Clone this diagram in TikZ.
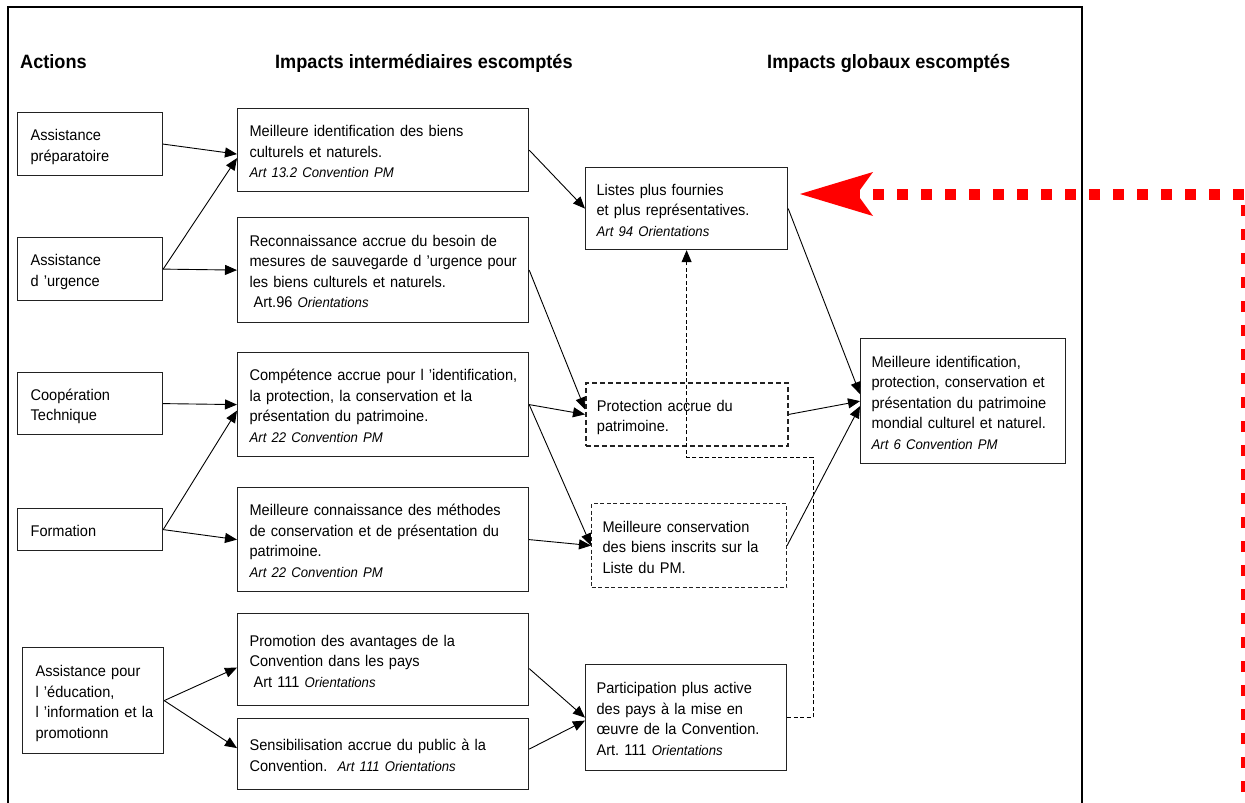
\documentclass[tikz,border=0pt]{standalone}
\usepackage{fontspec}
\setmainfont[FakeStretch=0.94]{Liberation Sans}
\usetikzlibrary{arrows.meta}
\definecolor{boxc}{HTML}{222222}
\frenchspacing
\newcommand\bodyfont{\fontsize{15.5}{20.5}\selectfont}
\newcommand\artfont{\fontsize{14}{20.5}\selectfont\itshape}
\newcommand\hdrfont{\fontsize{19.3}{22}\selectfont\bfseries}
\newcommand\boxlines[1]{\begin{tabular}{@{}l@{}}\rule{0pt}{20.4pt}#1\end{tabular}}
\newcommand\art[1]{{\artfont #1}}
\begin{document}
\begin{tikzpicture}[x=1pt,y=-1pt,
  box/.style={draw=boxc, line width=1.2pt, inner xsep=12pt, inner ysep=0pt,
    anchor=north west, align=left, font=\bodyfont},
  abox/.style={box, inner xsep=13pt, text width=119pt},
  ibox/.style={box, inner xsep=12pt, text width=267pt},
  mbox/.style={box, inner xsep=11pt},
  dthick/.style={mbox, line width=1.8pt, dash pattern=on 5pt off 3pt},
  dthin/.style={mbox, line width=1.1pt, dash pattern=on 4pt off 2.5pt},
  hdr/.style={font=\hdrfont, inner sep=0pt, anchor=base west},
  conn/.style={draw=black, line width=0.9pt, -{Triangle[length=12pt,width=10pt]}},
  dconn/.style={draw=black, line width=0.9pt, dash pattern=on 4pt off 2.5pt, -{Triangle[length=12pt,width=10pt]}},
  redarrow/.style={draw=red, line width=11pt, dash pattern=on 11.5pt off 12.5pt,
    -{Stealth[length=73pt,width=44pt,inset=16pt,line width=0pt]}}
]
\useasboundingbox (0,0) rectangle (1245,803);
% frame
\draw[line width=2pt] (8,830) -- (8,7) -- (1082,7) -- (1082,830);
% headers
\node[hdr] (hA) at (20,68) {Actions};
\node[hdr] (hI) at (275,68) {Impacts intermédiaires escomptés};
\node[hdr] (hG) at (767,68) {Impacts globaux escomptés};
% actions
\node[abox, minimum height=63pt] (A1) at (17,112) {\boxlines{Assistance\\préparatoire}};
\node[abox, minimum height=63pt] (A2) at (17,237) {\boxlines{Assistance\\d ’urgence}};
\node[abox, minimum height=62pt] (A3) at (17,372) {\boxlines{Coopération\\Technique}};
\node[abox, minimum height=42pt] (A4) at (17,508) {\boxlines{Formation}};
\node[abox, text width=115pt, minimum height=106pt] (A5) at (22,647) {\boxlines{Assistance pour\\l ’éducation,\\l ’information et la\\promotionn}};
% intermediate
\node[ibox, minimum height=83pt] (I1) at (237,108) {\boxlines{Meilleure identification des biens\\culturels et naturels.\\\art{Art 13.2 Convention PM}}};
\node[ibox, minimum height=105pt] (I2) at (237,217) {\boxlines{Reconnaissance accrue du besoin de\\mesures de sauvegarde d ’urgence pour\\les biens culturels et naturels.\\\hspace{4pt}Art.96 \art{Orientations}}};
\node[ibox, minimum height=104pt] (I3) at (237,352) {\boxlines{Compétence accrue pour l ’identification,\\la protection, la conservation et la\\présentation du patrimoine.\\\art{Art 22 Convention PM}}};
\node[ibox, minimum height=104pt] (I4) at (237,487) {\boxlines{Meilleure connaissance des méthodes\\de conservation et de présentation du\\patrimoine.\\\art{Art 22 Convention PM}}};
\node[ibox, minimum height=92pt] (I5) at (237,613) {\boxlines{Promotion des avantages de la\\Convention dans les pays\\\hspace{4pt}Art 111 \art{Orientations}}};
\node[ibox, minimum height=71pt] (I6) at (237,718) {\boxlines{Sensibilisation accrue du public à la\\Convention.\ \ \art{Art 111 Orientations}}};
% middle column
\node[mbox, text width=180pt, minimum height=82pt] (L) at (585,167) {\boxlines{Listes plus fournies\\et plus représentatives.\\\art{Art 94 Orientations}}};
\node[dthick, text width=180pt, minimum height=63pt] (P) at (585,382) {\boxlines{Protection accrue du\\patrimoine.}};
\node[dthin, text width=173pt, minimum height=84pt] (MC) at (591,503) {\boxlines{Meilleure conservation\\des biens inscrits sur la\\Liste du PM.}};
\node[mbox, text width=179pt, minimum height=106pt] (Part) at (585,664) {\boxlines{Participation plus active\\des pays à la mise en\\œuvre de la Convention.\\Art. 111 \art{Orientations}}};
% global
\node[mbox, text width=183pt, minimum height=125pt] (F) at (860,338) {\boxlines{Meilleure identification,\\protection, conservation et\\présentation du patrimoine\\mondial culturel et naturel.\\\art{Art 6 Convention PM}}};
% connectors
\draw[conn] (A1.east) -- ([yshift=-4pt]I1.west);
\draw[conn] (A2.east) -- ([yshift=-8pt]I1.west);
\draw[conn] (A2.east) -- (I2.west);
\draw[conn] (A3.east) -- (I3.west);
\draw[conn] (A4.east) -- ([yshift=-6pt]I3.west);
\draw[conn] (A4.east) -- (I4.west);
\draw[conn] (A5.east) -- ([yshift=-8pt]I5.west);
\draw[conn] (A5.east) -- ([yshift=6pt]I6.west);
\draw[conn] (I1.east) -- (L.west);
\draw[conn] (I2.east) -- ([yshift=5pt]P.west);
\draw[conn] (I3.east) -- (P.west);
\draw[conn] (I3.east) -- (MC.west);
\draw[conn] (I4.east) -- (MC.west);
\draw[conn] ([yshift=-9pt]I5.east) -- (Part.west);
\draw[conn] ([yshift=5pt]I6.east) -- ([yshift=-3pt]Part.west);
\draw[conn] (L.east) -- ([yshift=7pt]F.west);
\draw[conn] (P.east) -- (F.west);
\draw[conn] (MC.east) -- ([yshift=-5pt]F.west);
% dashed feedback
\coordinate (dj) at (813,457);
\draw[dconn] (Part.east) -| (dj) -| (L.south);
% red arrow
\coordinate (rs) at (1246,840);
\coordinate (rt) at (800,194);
\draw[redarrow] (rs) |- (rt);
\end{tikzpicture}
\end{document}
